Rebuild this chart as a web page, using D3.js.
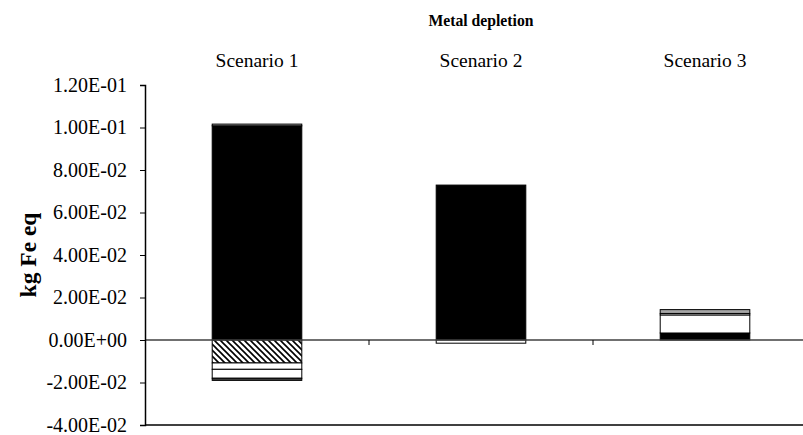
<!DOCTYPE html>
<html><head><meta charset="utf-8">
<script src="https://cdn.jsdelivr.net/npm/d3@7"></script>
<style>body{margin:0;background:#fff}svg{display:block}text{font-family:"Liberation Serif","Times New Roman",serif}</style>
</head><body><svg id="c" width="803" height="435"></svg>
<script>
const categories = ["Scenario 1", "Scenario 2", "Scenario 3"];
const seriesNames = ["Series A", "Series B", "Series C", "Series D", "Series E", "Series F"];
const serA = [0.1008, 0.0729, 0.0033];
const serB = [-0.0108, 0, 0];
const serC = [-0.0030, -0.0015, 0.0085];
const serD = [-0.0042, 0, 0.0007];
const serE = [0.0008, 0, 0.0018];
const serF = [-0.0010, 0, 0];
const tickValues = [-0.04, -0.02, 0, 0.02, 0.04, 0.06, 0.08, 0.10, 0.12];
const tickLabels = ["-4.00E-02", "-2.00E-02", "0.00E+00", "2.00E-02", "4.00E-02", "6.00E-02", "8.00E-02", "1.00E-01", "1.20E-01"];
const title = "Metal depletion";
const yTitle = "kg Fe eq";
const fills = ["#000000", "url(#hatch)", "#ffffff", "#ffffff", "#a6a6a6", "#404040"];

const svg = d3.select("#c");
const defs = svg.append("defs");
const pat = defs.append("pattern").attr("id", "hatch").attr("patternUnits", "userSpaceOnUse")
  .attr("width", 6).attr("height", 6);
pat.append("rect").attr("width", 6).attr("height", 6).attr("fill", "#fff");
pat.append("path").attr("d", "M-1,-1 L7,7 M-4,2 L4,10 M2,-4 L10,4").attr("stroke", "#000").attr("stroke-width", 1.6);

const rows = categories.map((c, i) => ({cat: c, A: serA[i], B: serB[i], C: serC[i], D: serD[i], E: serE[i], F: serF[i]}));
const keys = ["A", "B", "C", "D", "E", "F"];
const stacked = d3.stack().keys(keys).offset(d3.stackOffsetDiverging)(rows);

const x = d3.scaleBand().domain(categories).range([145, 145 + 3 * 224]).paddingInner(0.6).paddingOuter(0.3);
const y = d3.scaleLinear().domain([-0.04, 0.12]).range([425, 85]);

// bars
stacked.forEach((s, si) => {
  svg.append("g").selectAll("rect").data(s.filter(d => d[1] - d[0] !== 0)).join("rect")
    .attr("x", d => x(d.data.cat))
    .attr("width", x.bandwidth())
    .attr("y", d => y(d[1]))
    .attr("height", d => Math.max(0.5, y(d[0]) - y(d[1])))
    .attr("fill", fills[si])
    .attr("stroke", "#000").attr("stroke-width", 1);
});

// zero line
const xEnd = 145 + 3 * 224;
svg.append("line").attr("x1", 145).attr("x2", xEnd).attr("y1", y(0)).attr("y2", y(0))
  .attr("stroke", "#404040").attr("stroke-width", 1.5);
[1, 2].forEach(k => {
  const xv = 145 + k * x.step();
  svg.append("line").attr("x1", xv).attr("x2", xv).attr("y1", y(0)).attr("y2", y(0) + 5)
    .attr("stroke", "#000").attr("stroke-width", 1);
});
// bottom line
svg.append("line").attr("x1", 145).attr("x2", xEnd).attr("y1", y(-0.04)).attr("y2", y(-0.04))
  .attr("stroke", "#000").attr("stroke-width", 1.5);

// y axis
const yAxis = d3.axisLeft(y).tickValues(tickValues).tickSize(5).tickPadding(13)
  .tickFormat((d, i) => tickLabels[i]);
const gy = svg.append("g").attr("transform", "translate(145,0)").call(yAxis);
gy.attr("font-size", 20).attr("font-family", "Liberation Serif, serif");
gy.select(".domain").attr("stroke", "#000").attr("stroke-width", 1.5);
gy.selectAll(".tick line").attr("stroke", "#000");
gy.selectAll(".tick text").attr("font-size", 20).attr("fill", "#000");

// category labels at top
svg.append("g").selectAll("text").data(categories).join("text")
  .attr("x", d => x(d) + x.bandwidth() / 2).attr("y", 67)
  .attr("text-anchor", "middle").attr("font-size", 19.5).text(d => d);

// title
svg.append("text").attr("x", 481).attr("y", 26).attr("text-anchor", "middle")
  .attr("font-size", 15.7).attr("font-weight", "bold").text(title);

// y title
svg.append("text").attr("transform", "translate(36,255) rotate(-90)").attr("text-anchor", "middle")
  .attr("font-size", 23.5).attr("font-weight", "bold").text(yTitle);
</script></body></html>
